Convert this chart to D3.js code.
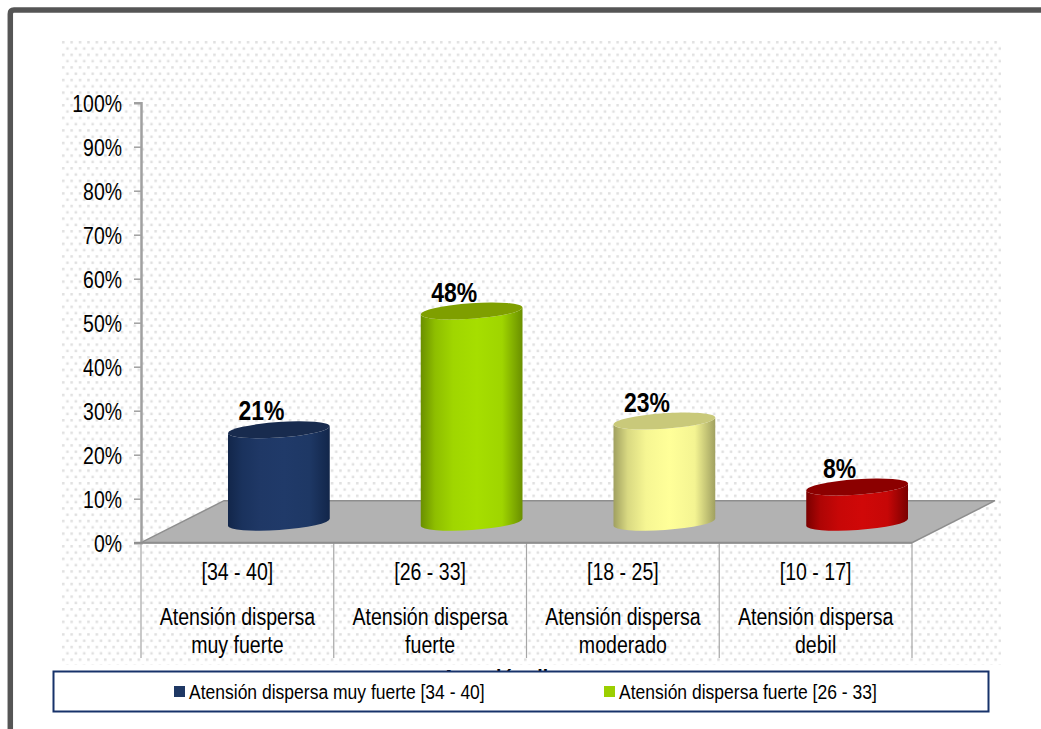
<!DOCTYPE html>
<html>
<head>
<meta charset="utf-8">
<script src="https://cdn.jsdelivr.net/npm/d3@7"></script>
<style>
    html, body { margin: 0; padding: 0; background: #fff; }
    svg { display: block; font-family: "Liberation Sans", Arial, sans-serif; }
</style>
</head>
<body>
<div id="chart"></div>
<script>
// values
const categories = ['[34 - 40]', '[26 - 33]', '[18 - 25]', '[10 - 17]'];
const categoryLines = [
    ['Atensión dispersa', 'muy fuerte'],
    ['Atensión dispersa', 'fuerte'],
    ['Atensión dispersa', 'moderado'],
    ['Atensión dispersa', 'debil']
];
const values = [21, 48, 23, 8];
const yTicks = [0, 10, 20, 30, 40, 50, 60, 70, 80, 90, 100];
const barColors = [
    { edge: '#12264a', mid: '#203a69', top: '#182b4e' },
    { edge: '#6a8f00', mid: '#a6de00', top: '#7f9f00' },
    { edge: '#a0a060', mid: '#ffff99', top: '#c9c97a' },
    { edge: '#7a0000', mid: '#d00808', top: '#8c0000' }
];
const legendItems = [
    { label: 'Atensión dispersa muy fuerte [34 - 40]', color: '#1f3864' },
    { label: 'Atensión dispersa fuerte [26 - 33]', color: '#9bcf00' }
];
const axisTitle = 'Atensión dispersa';

const width = 1041, height = 729;

const svg = d3.select('#chart').append('svg')
    .attr('width', width)
    .attr('height', height);

const defs = svg.append('defs');

// the text in the picture is tall and narrow, so squeeze it horizontally
function squeeze(sel, k) {
    sel.each(function () {
        d3.select(this)
            .attr('textLength', this.getComputedTextLength() * k)
            .attr('lengthAdjust', 'spacingAndGlyphs');
    });
}

// dotted chart area background
const pattern = defs.append('pattern')
    .attr('id', 'dots')
    .attr('patternUnits', 'userSpaceOnUse')
    .attr('x', 61).attr('y', 40)
    .attr('width', 8.4).attr('height', 12.6);
pattern.append('rect').attr('x', 1).attr('y', 1).attr('width', 2.5).attr('height', 2.5).attr('fill', '#e0e0e0');
pattern.append('rect').attr('x', 5.2).attr('y', 7.3).attr('width', 2.5).attr('height', 2.5).attr('fill', '#e0e0e0');

svg.append('rect')
    .attr('x', 61).attr('y', 40)
    .attr('width', 940).attr('height', 625)
    .attr('fill', 'url(#dots)');

// dark frame, open on the right and at the bottom
svg.append('path')
    .attr('d', 'M10.3,729 V14 Q10.3,10 14,10 H1041')
    .attr('fill', 'none')
    .attr('stroke', '#555')
    .attr('stroke-width', 5.5);

const xScale = d3.scaleBand().domain(categories).range([141, 912]);
const yScale = d3.scaleLinear().domain([0, 100]).range([542.7, 102.7]);

// depth of the 3d floor
const depthX = 83, depthY = 42;

svg.append('polygon')
    .attr('points', [
        [xScale.range()[0], yScale(0)],
        [xScale.range()[0] + depthX, yScale(0) - depthY],
        [xScale.range()[1] + depthX, yScale(0) - depthY],
        [xScale.range()[1], yScale(0)]
    ].join(' '))
    .attr('fill', '#b2b2b2')
    .attr('stroke', '#8e8e8e')
    .attr('stroke-width', 1.5);

// y axis
const yAxis = d3.axisLeft(yScale)
    .tickValues(yTicks)
    .tickFormat(d => d + '%')
    .tickSize(7)
    .tickPadding(12);

const yG = svg.append('g')
    .attr('transform', 'translate(141,0)')
    .call(yAxis);
yG.select('.domain')
    .attr('stroke', '#a0a0a0')
    .attr('stroke-width', 2.5);
yG.selectAll('.tick line')
    .attr('stroke', '#a0a0a0')
    .attr('stroke-width', 1.5);
yG.selectAll('.tick text')
    .attr('font-family', '"Liberation Sans", Arial, sans-serif')
    .attr('font-size', 23)
    .attr('fill', '#000')
    .attr('dy', '0.4em')
    .call(squeeze, 0.845);

// category separators and labels
const edges = categories.map(c => xScale(c)).concat(xScale.range()[1]);
svg.selectAll('.sep')
    .data(edges)
    .enter().append('line')
    .attr('class', 'sep')
    .attr('x1', d => d).attr('x2', d => d)
    .attr('y1', yScale(0)).attr('y2', 658)
    .attr('stroke', '#a6a6a6')
    .attr('stroke-width', 1.2);

svg.append('line')
    .attr('x1', 134).attr('x2', 912)
    .attr('y1', yScale(0)).attr('y2', yScale(0))
    .attr('stroke', '#8e8e8e')
    .attr('stroke-width', 2);

const catG = svg.selectAll('.cat')
    .data(categories)
    .enter().append('g')
    .attr('class', 'cat')
    .attr('transform', d => 'translate(' + (xScale(d) + xScale.bandwidth() / 2) + ',0)')
    .attr('text-anchor', 'middle')
    .attr('font-size', 23)
    .attr('fill', '#000');
catG.append('text').attr('y', 580).text(d => d).call(squeeze, 0.85);
catG.append('text').attr('y', 624.5).text((d, i) => categoryLines[i][0]).call(squeeze, 0.85);
catG.append('text').attr('y', 652.5).text((d, i) => categoryLines[i][1]).call(squeeze, 0.85);

// cylinders
const rx = 51, ry = 7.8, tilt = -4;
const cosT = Math.cos(tilt * Math.PI / 180), sinT = Math.sin(tilt * Math.PI / 180);
const liftY = 20.5;               // center of the column sits back on the floor
const shiftX = 41.5;
const baseY = yScale(0) - liftY;

barColors.forEach(function (c, i) {
    const blend = d3.interpolateRgb(c.edge, c.mid);
    const grad = defs.append('linearGradient').attr('id', 'cyl' + i);
    grad.append('stop').attr('offset', '0%').attr('stop-color', c.edge);
    grad.append('stop').attr('offset', '14%').attr('stop-color', blend(0.6));
    grad.append('stop').attr('offset', '32%').attr('stop-color', blend(0.9));
    grad.append('stop').attr('offset', '55%').attr('stop-color', c.mid);
    grad.append('stop').attr('offset', '80%').attr('stop-color', blend(0.88));
    grad.append('stop').attr('offset', '100%').attr('stop-color', c.edge);
});

const barG = svg.selectAll('.bar')
    .data(values)
    .enter().append('g')
    .attr('class', 'bar');

barG.append('path')
    .attr('d', function (d, i) {
        const cx = xScale(categories[i]) + xScale.bandwidth() / 2 + shiftX;
        const topY = yScale(d) - liftY;
        const dx = rx * cosT, dy = rx * sinT;
        return 'M' + (cx - dx) + ',' + (topY - dy)
            + 'L' + (cx - dx) + ',' + (baseY - dy)
            + 'A' + rx + ',' + ry + ' ' + tilt + ' 0 0 ' + (cx + dx) + ',' + (baseY + dy)
            + 'L' + (cx + dx) + ',' + (topY + dy)
            + 'A' + rx + ',' + ry + ' ' + tilt + ' 0 1 ' + (cx - dx) + ',' + (topY - dy) + 'Z';
    })
    .attr('fill', (d, i) => 'url(#cyl' + i + ')');

barG.append('ellipse')
    .attr('rx', rx)
    .attr('ry', ry)
    .attr('transform', function (d, i) {
        const cx = xScale(categories[i]) + xScale.bandwidth() / 2 + shiftX;
        return 'translate(' + cx + ',' + (yScale(d) - liftY) + ') rotate(' + tilt + ')';
    })
    .attr('fill', (d, i) => barColors[i].top);

barG.append('text')
    .attr('x', (d, i) => xScale(categories[i]) + xScale.bandwidth() / 2 + 24)
    .attr('y', d => yScale(d) - 30)
    .attr('text-anchor', 'middle')
    .attr('font-size', 27)
    .attr('font-weight', 'bold')
    .attr('fill', '#000')
    .text(d => d + '%')
    .call(squeeze, 0.85);

// axis title, mostly hidden behind the legend box
svg.append('text')
    .attr('x', (xScale.range()[0] + xScale.range()[1]) / 2).attr('y', 687)
    .attr('text-anchor', 'middle')
    .attr('font-size', 23)
    .attr('font-weight', 'bold')
    .text(axisTitle)
    .call(squeeze, 0.85);

// legend
svg.append('rect')
    .attr('x', 53.5).attr('y', 671.5)
    .attr('width', 935).attr('height', 40)
    .attr('fill', '#fff')
    .attr('stroke', '#17326a')
    .attr('stroke-width', 2);

const legendX = [174, 604];
const legG = svg.selectAll('.leg')
    .data(legendItems)
    .enter().append('g')
    .attr('class', 'leg')
    .attr('transform', (d, i) => 'translate(' + legendX[i] + ',686)');
legG.append('rect')
    .attr('width', 11).attr('height', 11)
    .attr('fill', d => d.color);
legG.append('text')
    .attr('x', 15).attr('y', 12.5)
    .attr('font-size', 20)
    .attr('fill', '#000')
    .text(d => d.label)
    .call(squeeze, 0.875);
</script>
</body>
</html>
